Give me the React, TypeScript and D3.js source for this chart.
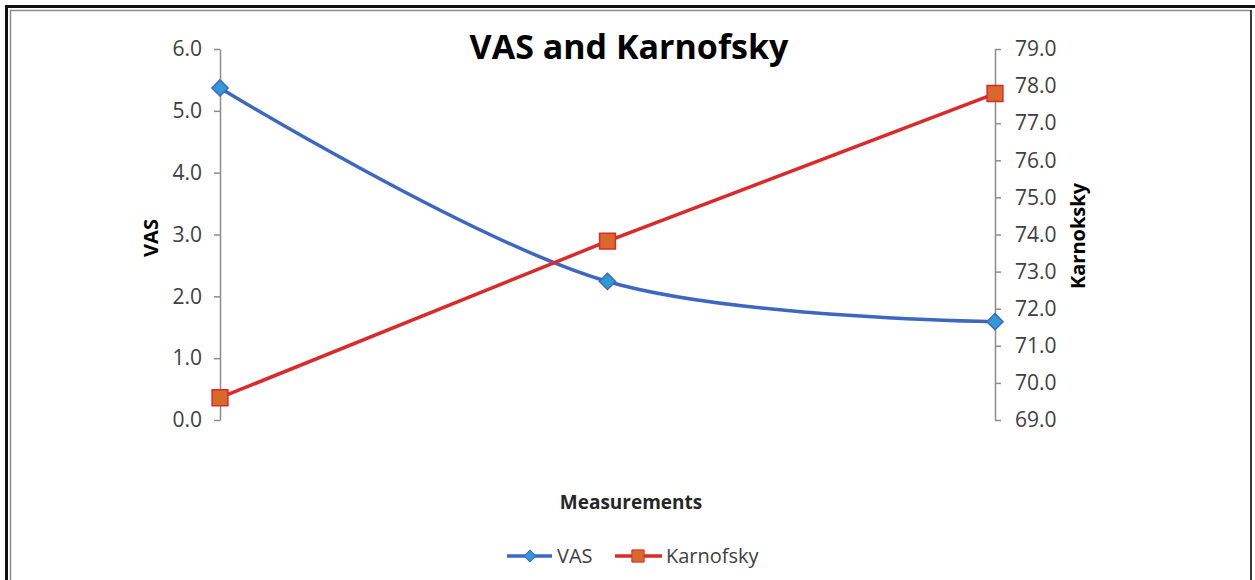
import React, { useEffect, useRef } from "react";
import * as d3 from "d3";

// chart data
const measurements = ["M1", "M2", "M3"];
const vasValues = [5.37, 2.24, 1.59];
const karnofskyValues = [69.6, 73.82, 77.8];
const vasTicks = [0, 1, 2, 3, 4, 5, 6];
const karnofskyTicks = [69, 70, 71, 72, 73, 74, 75, 76, 77, 78, 79];

const W = 1255;
const H = 580;
const FONT = "'Open Sans', 'Liberation Sans', sans-serif";

const App = () => {
  const leftRef = useRef<SVGGElement>(null);
  const rightRef = useRef<SVGGElement>(null);

  const x = d3.scalePoint<string>().domain(measurements).range([220, 995]);
  const yVas = d3.scaleLinear().domain([0, 6]).range([420, 49]);
  const yKps = d3.scaleLinear().domain([69, 79]).range([420, 49]);

  useEffect(() => {
    const styleAxis = (g: any) => {
      g.select(".domain").attr("stroke", "#8c8c8c").attr("stroke-width", 1.5);
      g.selectAll(".tick line").attr("stroke", "#8c8c8c").attr("stroke-width", 1.5);
      g.selectAll(".tick text")
        .attr("fill", "#404040")
        .style("font-family", FONT)
        .style("font-size", "21px");
    };

    const left = d3.select(leftRef.current);
    left.selectAll("*").remove();
    left
      .call(
        d3
          .axisLeft(yVas)
          .tickValues(vasTicks)
          .tickFormat(d3.format(".1f") as any)
          .tickSize(6)
          .tickSizeOuter(0)
          .tickPadding(12),
      )
      .call(styleAxis);

    const right = d3.select(rightRef.current);
    right.selectAll("*").remove();
    right
      .call(
        d3
          .axisRight(yKps)
          .tickValues(karnofskyTicks)
          .tickFormat(d3.format(".1f") as any)
          .tickSize(6)
          .tickSizeOuter(0)
          .tickPadding(14),
      )
      .call(styleAxis);
  }, []);

  const vasLine = d3
    .line<number>()
    .x((_, i) => x(measurements[i]) as number)
    .y((d) => yVas(d))
    .curve(d3.curveCatmullRom.alpha(0.5));

  const kpsLine = d3
    .line<number>()
    .x((_, i) => x(measurements[i]) as number)
    .y((d) => yKps(d));

  const diamond = d3.symbol(d3.symbolSquare, 130)();
  const square = d3.symbol(d3.symbolSquare, 250)();

  const vasColor = "#3d67c1";
  const kpsColor = "#da2b2b";

  return (
    <svg
      width={W}
      height={H}
      style={{ position: "absolute", left: 0, top: 0, background: "#fff" }}
    >
      {/* frame */}
      <rect x={5} y={5} width={W - 5} height={3} fill="#111" />
      <rect x={5} y={5} width={3} height={H - 5} fill="#111" />
      <path d={`M10.5,${H} V10.5 H1251`} fill="none" stroke="#8a8a8a" strokeWidth={1.5} />
      <line x1={1251} y1={10} x2={1251} y2={H} stroke="#3a3a3a" strokeWidth={2} />

      <text
        x={629}
        y={59}
        textAnchor="middle"
        fontFamily={FONT}
        fontWeight="bold"
        fontSize={34}
        fill="#000"
      >
        VAS and Karnofsky
      </text>

      <g ref={leftRef} transform={`translate(220,0)`} />
      <g ref={rightRef} transform={`translate(995,0)`} />

      <text
        transform={`translate(158,238) rotate(-90)`}
        textAnchor="middle"
        fontFamily={FONT}
        fontWeight="bold"
        fontSize={20}
        fill="#000"
      >
        VAS
      </text>
      <text
        transform={`translate(1085,236) rotate(-90)`}
        textAnchor="middle"
        fontFamily={FONT}
        fontWeight="bold"
        fontSize={20}
        fill="#000"
      >
        Karnoksky
      </text>

      <text
        x={631}
        y={509}
        textAnchor="middle"
        fontFamily={FONT}
        fontWeight="bold"
        fontSize={19}
        fill="#262626"
      >
        Measurements
      </text>

      <path d={vasLine(vasValues) as string} fill="none" stroke={vasColor} strokeWidth={3.5} />
      <path d={kpsLine(karnofskyValues) as string} fill="none" stroke={kpsColor} strokeWidth={3.5} />

      {karnofskyValues.map((v, i) => (
        <path
          key={"k" + i}
          d={square as string}
          transform={`translate(${x(measurements[i])},${yKps(v)})`}
          fill="#d9682c"
          stroke={kpsColor}
          strokeWidth={1.5}
        />
      ))}
      {vasValues.map((v, i) => (
        <path
          key={"v" + i}
          d={diamond as string}
          transform={`translate(${x(measurements[i])},${yVas(v)}) rotate(45)`}
          fill="#2f9ad6"
          stroke={vasColor}
          strokeWidth={1.5}
        />
      ))}

      {/* legend */}
      <g fontFamily={FONT} fontSize={20} fill="#404040">
        <line x1={507} x2={552} y1={556} y2={556} stroke={vasColor} strokeWidth={3.5} />
        <path d={d3.symbol(d3.symbolSquare, 70)() as string} transform="translate(530,556) rotate(45)" fill="#2f9ad6" stroke={vasColor} strokeWidth={1} />
        <text x={557} y={563}>VAS</text>
        <line x1={615} x2={662} y1={556} y2={556} stroke={kpsColor} strokeWidth={3.5} />
        <path d={d3.symbol(d3.symbolSquare, 150)() as string} transform="translate(638,556)" fill="#d9682c" stroke={kpsColor} strokeWidth={1} />
        <text x={666} y={563}>Karnofsky</text>
      </g>
    </svg>
  );
};

export default App;
